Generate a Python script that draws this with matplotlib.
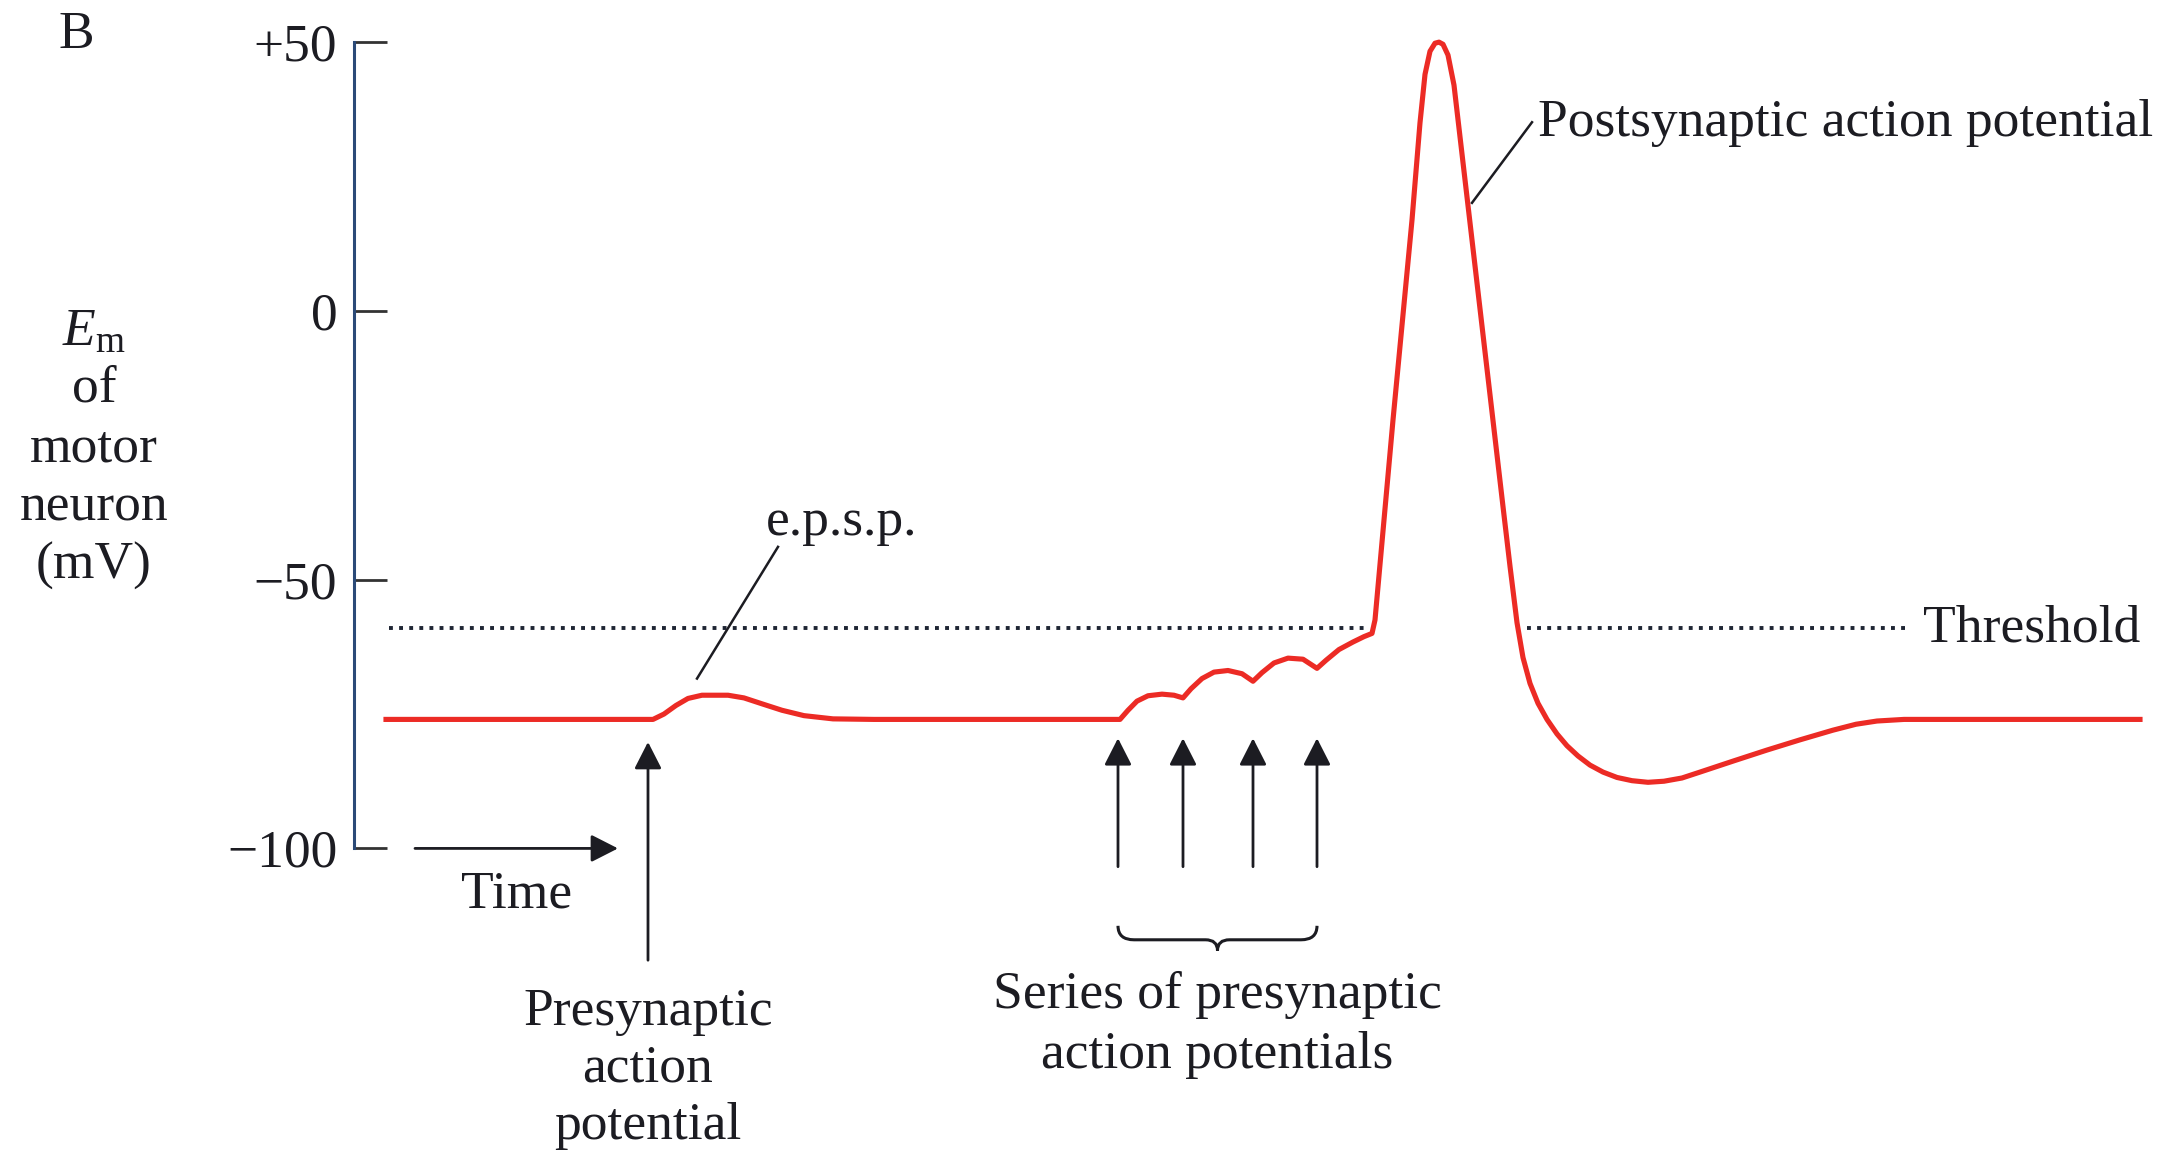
import numpy as np
import matplotlib.pyplot as plt
from matplotlib.path import Path
from matplotlib.patches import PathPatch

plt.rcParams["font.family"] = ["Liberation Serif", "DejaVu Serif"]
plt.rcParams["mathtext.fontset"] = "custom"
plt.rcParams["mathtext.rm"] = "Liberation Serif"
plt.rcParams["mathtext.it"] = "Liberation Serif:italic"

# membrane potential trace (time in arbitrary units, mV)
trace_t = [3.2, 29.9, 31.0, 32.2, 33.4, 34.8, 37.4, 39.0, 40.8, 42.8, 45.0, 47.9, 52.0,
           76.6, 77.4, 78.3, 79.4, 80.8, 82.0, 82.9, 83.7, 84.8, 86.0, 87.4, 88.8, 89.9,
           90.8, 92.0, 93.4, 94.9, 96.3, 97.2, 98.5, 99.9, 101.0, 101.8, 102.1,
           103.9, 105.8, 106.6, 107.1, 107.6, 108.1, 108.5, 108.9, 109.4, 110.0,
           111.6, 113.6, 114.9, 115.6, 116.3, 116.9, 117.6, 118.4, 119.3, 120.3, 121.3,
           122.4, 123.6, 124.9, 126.3, 127.8, 129.4, 131.0, 132.8, 134.6, 138.0, 141.3,
           144.6, 147.9, 150.2, 152.3, 155.0, 178.6]
trace_mv = [-76.0, -76.0, -75.0, -73.4, -72.1, -71.5, -71.5, -72.0, -73.1, -74.3, -75.3, -75.9, -76.0,
            -76.0, -74.3, -72.6, -71.6, -71.3, -71.5, -72.0, -70.3, -68.4, -67.2, -66.9, -67.5, -68.9,
            -67.3, -65.5, -64.6, -64.8, -66.5, -65.0, -63.0, -61.6, -60.6, -60.0, -57.5,
            -20.3, 16.9, 35.0, 44.0, 48.3, 49.8, 50.0, 49.6, 47.6, 42.0,
            16.4, -15.6, -36.4, -47.5, -58.0, -64.5, -69.3, -73.0, -76.0, -78.7, -80.9,
            -82.8, -84.5, -85.8, -86.8, -87.4, -87.7, -87.5, -86.9, -85.8, -83.7, -81.7,
            -79.8, -78.0, -76.9, -76.3, -76.0, -76.0]

threshold_mv = -59.0
threshold_spans = [(3.5, 101.4), (117.3, 155.4)]

single_ap_time = 29.4
series_ap_times = [76.4, 82.9, 89.9, 96.3]

ytick_values = [50, 0, -50, -100]
ytick_labels = ["+50", "0", "\u221250", "\u2212100"]

W, H = 2176, 1152
FS = 38.5
INK = "#1c1c22"


def fx(x):
    return x / W


def fy(y):
    return 1 - y / H


fig = plt.figure(figsize=(W / 100, H / 100), dpi=100)
ax = fig.add_axes([0, 0, 1, 1])
ax.set_xlim(-35.4, 182.2)
ax.set_ylim(-156.48, 57.84)
ax.patch.set_visible(False)

for side in ["top", "right", "bottom"]:
    ax.spines[side].set_visible(False)
ax.spines["left"].set_position(("data", 0))
ax.spines["left"].set_bounds(-100, 50)
ax.spines["left"].set_color("#2b4a78")
ax.spines["left"].set_linewidth(2.2)
ax.set_xticks([])
ax.set_yticks(ytick_values)
ax.set_yticklabels(ytick_labels)
ax.tick_params(axis="y", direction="in", length=24, width=2.0, color="#333333",
               pad=12, labelsize=FS, labelcolor=INK)

# threshold
for t0, t1 in threshold_spans:
    ax.plot([t0, t1], [threshold_mv, threshold_mv], color="#1e2533", lw=2.8,
            linestyle=(0, (1, 1.6)), dash_capstyle="butt")

# trace
ax.plot(trace_t, trace_mv, color="#ec2b25", lw=3.7, solid_joinstyle="round")

# arrows
head = "-|>,head_length=0.55,head_width=0.28"
arrow_kw = dict(arrowstyle=head, lw=2.0, color=INK, mutation_scale=30, shrinkA=0, shrinkB=0)
ax.annotate("", xy=(single_ap_time, -80.2), xytext=(single_ap_time, -120.8), arrowprops=arrow_kw)
for t in series_ap_times:
    ax.annotate("", xy=(t, -79.5), xytext=(t, -103.4), arrowprops=arrow_kw)
ax.annotate("", xy=(26.4, -100), xytext=(6.1, -100), arrowprops=arrow_kw)

# brace under the series of arrows
left, right = series_ap_times[0], series_ap_times[-1]
mid = (left + right) / 2
y_end, y_flat, y_tip = -114.4, -117.0, -119.0
verts = [(left, y_end), (left, y_flat), (left + 1.6, y_flat),
         (mid - 1.2, y_flat), (mid, y_flat), (mid, y_tip),
         (mid, y_flat), (mid + 1.2, y_flat),
         (right - 1.6, y_flat), (right, y_flat), (right, y_end)]
codes = [Path.MOVETO, Path.CURVE3, Path.CURVE3,
         Path.LINETO, Path.CURVE3, Path.CURVE3,
         Path.CURVE3, Path.CURVE3,
         Path.LINETO, Path.CURVE3, Path.CURVE3]
ax.add_patch(PathPatch(Path(verts, codes), fill=False, lw=2.2, edgecolor=INK))

# leader lines
ax.plot([42.4, 34.3], [-43.9, -68.4], color=INK, lw=1.8)
ax.plot([117.8, 111.8], [35.1, 20.1], color=INK, lw=1.8)

# texts
fig.text(fx(76), fy(35), "B", ha="center", va="center", fontsize=FS, color=INK)
ylab = [(333, r"$E_{\mathrm{m}}$"), (389, "of"), (448, "motor"), (507, "neuron"), (566, "(mV)")]
for y, s in ylab:
    fig.text(fx(94), fy(y), s, ha="center", va="center", fontsize=FS, color=INK)

fig.text(fx(842), fy(522), "e.p.s.p.", ha="center", va="center", fontsize=FS, color=INK)
fig.text(fx(1538), fy(123), "Postsynaptic action potential", ha="left", va="center",
         fontsize=FS, color=INK)
fig.text(fx(1923), fy(628), "Threshold", ha="left", va="center", fontsize=FS, color=INK)
fig.text(fx(517), fy(895), "Time", ha="center", va="center", fontsize=FS, color=INK)
for y, s in [(1012, "Presynaptic"), (1068, "action"), (1126, "potential")]:
    fig.text(fx(648), fy(y), s, ha="center", va="center", fontsize=FS, color=INK)
for y, s in [(995, "Series of presynaptic"), (1055, "action potentials")]:
    fig.text(fx(1217), fy(y), s, ha="center", va="center", fontsize=FS, color=INK)

fig.savefig("out.png", dpi=100, facecolor="white")
